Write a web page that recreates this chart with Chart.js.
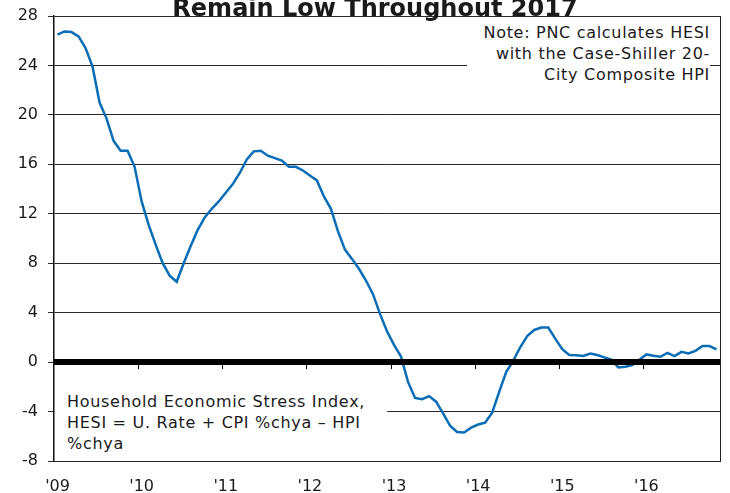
<!DOCTYPE html>
<html>
<head>
<meta charset="utf-8">
<script src="https://cdn.jsdelivr.net/npm/chart.js@4/dist/chart.umd.min.js"></script>
<style>
  body { margin: 0; background: #fff; }
  #wrap { position: relative; width: 730px; height: 493px; overflow: hidden; font-family: "DejaVu Sans", Verdana, sans-serif; color: #1a1a1a; }
  #title { position: absolute; left: 0; width: 750px; top: -4px; text-align: center; font-weight: bold; font-size: 24px; line-height: 24px; }
  .box { position: absolute; background: #fff; font-size: 16px; line-height: 21px; letter-spacing: 0.7px; white-space: nowrap; }
  #note { left: 467px; top: 17px; width: 243px; height: 66px; padding-top: 5px; text-align: right; }
  #legendNote { left: 55px; top: 386px; width: 320px; height: 70px; padding: 5px 0 0 12px; text-align: left; }
</style>
</head>
<body>
<div id="wrap">
  <canvas id="hesiChart" width="730" height="493"></canvas>
  <div id="title">Remain Low Throughout 2017</div>
  <div class="box" id="note">Note: PNC calculates HESI<br>with the Case-Shiller 20-<br>City Composite HPI</div>
  <div class="box" id="legendNote">Household Economic Stress Index,<br>HESI = U. Rate + CPI %chya &ndash; HPI<br>%chya</div>
</div>
<script>
// monthly, Jan 2009 .. Nov 2016
const years = ['09', '10', '11', '12', '13', '14', '15', '16'];
const monthLabels = [];
years.forEach(y => {
  for (let m = 1; m <= 12; m++) monthLabels.push(`20${y}-${String(m).padStart(2, '0')}`);
});
monthLabels.length = 95;

const hesi = [
  26.5, 26.75, 26.7, 26.35, 25.4, 23.9, 21.0, 19.7, 17.9, 17.1, 17.1, 15.8,
  13.0, 11.1, 9.5, 8.0, 7.0, 6.5, 8.0, 9.4, 10.7, 11.7, 12.4, 13.0,
  13.7, 14.4, 15.3, 16.4, 17.05, 17.1, 16.7, 16.5, 16.3, 15.8, 15.8, 15.5,
  15.1, 14.7, 13.4, 12.4, 10.6, 9.1, 8.35, 7.55, 6.6, 5.5, 3.9, 2.5,
  1.4, 0.45, -1.6, -2.9, -3.0, -2.75, -3.2, -4.15, -5.15, -5.65, -5.7, -5.3,
  -5.05, -4.9, -4.1, -2.4, -0.8, 0.1, 1.2, 2.1, 2.6, 2.8, 2.8, 1.9,
  1.05, 0.57, 0.55, 0.5, 0.7, 0.57, 0.38, 0.2, -0.43, -0.38, -0.24, 0.2,
  0.62, 0.51, 0.43, 0.75, 0.49, 0.83, 0.7, 0.91, 1.3, 1.3, 1.03
];

const yTicks = { min: -8, max: 28, step: 4 };
const textColor = '#1a1a1a';
const font = { family: 'DejaVu Sans', size: 16 };

// frame on the right, heavy zero line and the year ticks hanging under it
const framePlugin = {
  id: 'frame',
  beforeDatasetsDraw(chart) {
    const { ctx, chartArea } = chart;
    ctx.save();
    ctx.strokeStyle = '#222';
    ctx.lineWidth = 1;
    ctx.beginPath();
    ctx.moveTo(chartArea.right + 0.5, chartArea.top);
    ctx.lineTo(chartArea.right + 0.5, chartArea.bottom);
    ctx.stroke();
    ctx.restore();
  },
  afterDatasetsDraw(chart) {
    const { ctx, chartArea, scales } = chart;
    const y0 = scales.y.getPixelForValue(0);
    ctx.save();
    ctx.strokeStyle = '#000';
    ctx.lineWidth = 6;
    ctx.beginPath();
    ctx.moveTo(chartArea.left, y0);
    ctx.lineTo(chartArea.right, y0);
    ctx.stroke();
    ctx.lineWidth = 1;
    monthLabels.forEach((lab, i) => {
      if (i === 0 || !lab.endsWith('-01')) return;
      const x = Math.round((scales.x.getPixelForValue(i) + scales.x.getPixelForValue(i - 1)) / 2) + 0.5;
      ctx.beginPath();
      ctx.moveTo(x, y0);
      ctx.lineTo(x, y0 + 7);
      ctx.stroke();
    });
    ctx.restore();
  }
};

new Chart(document.getElementById('hesiChart'), {
  type: 'line',
  data: {
    labels: monthLabels,
    datasets: [{
      data: hesi,
      borderColor: '#0a6db5',
      borderWidth: 2.5,
      pointRadius: 0,
      tension: 0
    }]
  },
  options: {
    responsive: false,
    animation: false,
    layout: { padding: { top: 16, right: 10, left: 0, bottom: 0 } },
    plugins: { legend: { display: false }, tooltip: { enabled: false } },
    scales: {
      x: {
        type: 'category',
        offset: true,
        grid: { display: false, drawTicks: false },
        border: { display: true, color: '#222', width: 1 },
        ticks: {
          autoSkip: false,
          maxRotation: 0,
          padding: 16,
          color: textColor,
          font,
          callback(v) {
            const lab = monthLabels[v];
            return lab.endsWith('-01') ? "'" + lab.slice(2, 4) : '';
          }
        },
        // fixed axis band; drop the label overhang so the plot spans 54..720
        afterFit(scale) {
          scale.height = 32;
          scale.paddingLeft = 0;
          scale.paddingRight = 0;
        }
      },
      y: {
        min: yTicks.min,
        max: yTicks.max,
        grid: { color: '#2a2a2a', lineWidth: 1, tickLength: 6, tickWidth: 1, tickColor: '#2a2a2a' },
        border: { display: true, color: '#111', width: 1.5 },
        ticks: { stepSize: yTicks.step, padding: 10, color: textColor, font },
        afterFit(scale) {
          scale.width = 54;
          scale.paddingTop = 0;
          scale.paddingBottom = 0;
        }
      }
    }
  },
  plugins: [framePlugin]
});
</script>
</body>
</html>
